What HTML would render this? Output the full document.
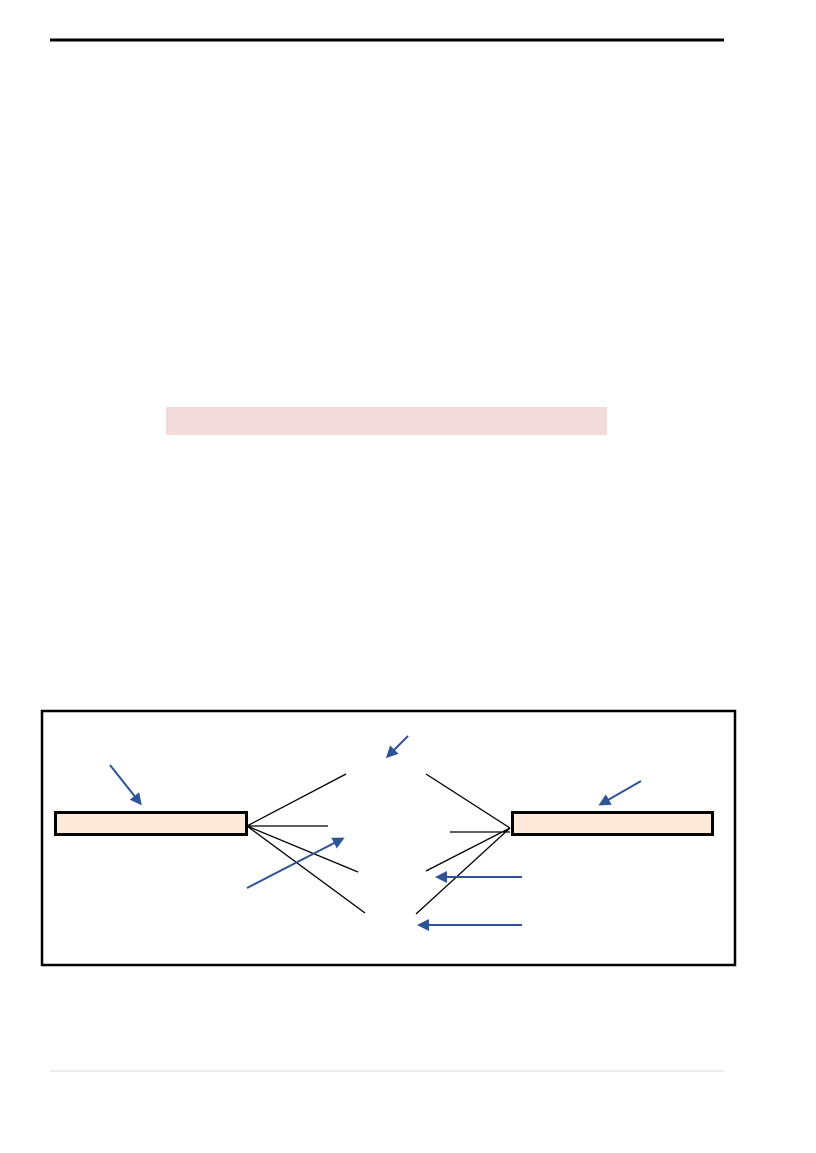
<!DOCTYPE html>
<html><head><style>
html,body{margin:0;padding:0;background:#fff;width:816px;height:1153px;overflow:hidden;font-family:"Liberation Sans",sans-serif;}
</style></head><body>
<svg width="816" height="1153" xmlns="http://www.w3.org/2000/svg">
<defs><marker id="a" markerWidth="12" markerHeight="12" refX="9" refY="6" orient="auto" markerUnits="userSpaceOnUse"><path d="M0,0 L12,6 L0,12 z" fill="#2f5496"/></marker></defs>
<line x1="50" y1="40" x2="724" y2="40" stroke="#000" stroke-width="3"/>
<line x1="50" y1="1071" x2="724" y2="1071" stroke="#d9d9d9" stroke-width="1"/>
<rect x="166" y="407" width="441" height="28" fill="#f2dcdb"/>
<rect x="42" y="711" width="693" height="254" fill="none" stroke="#000" stroke-width="2.5"/>
<rect x="55.5" y="812.5" width="191" height="22" fill="#fde9d9" stroke="#000" stroke-width="3"/>
<rect x="512.5" y="812.5" width="200" height="22" fill="#fde9d9" stroke="#000" stroke-width="3"/>
<g stroke="#000" stroke-width="1.3">
<line x1="247" y1="826" x2="346" y2="774"/>
<line x1="247" y1="826" x2="328" y2="826"/>
<line x1="247" y1="826" x2="358" y2="872"/>
<line x1="247" y1="826" x2="365" y2="913"/>
<line x1="510" y1="828" x2="426" y2="774"/>
<line x1="450" y1="832" x2="510" y2="832"/>
<line x1="510" y1="828" x2="426" y2="871"/>
<line x1="510" y1="828" x2="416" y2="914"/>
</g>
<g stroke="#2f5496" stroke-width="2" marker-end="url(#a)">
<line x1="110" y1="765" x2="140" y2="803"/>
<line x1="408" y1="736" x2="388" y2="756"/>
<line x1="641" y1="781" x2="601" y2="804"/>
<line x1="247" y1="888" x2="342" y2="839"/>
<line x1="522" y1="877" x2="438" y2="877"/>
<line x1="522" y1="925" x2="420" y2="925"/>
</g>
</svg>
</body></html>
